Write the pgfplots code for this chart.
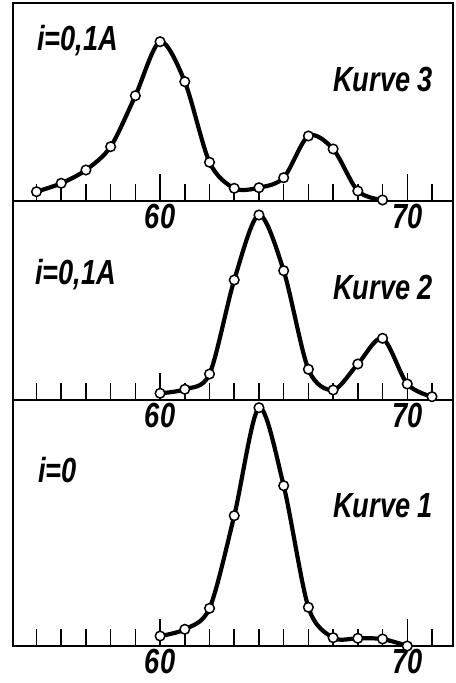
\documentclass[border=0pt]{standalone}
\usepackage{fontspec}
\usepackage{pgfplots}
\pgfplotsset{compat=1.18}
\newfontfamily\lab{Liberation Sans}[FakeStretch=0.78]
\newcommand{\labfont}{\lab\bfseries\itshape\fontsize{35}{38}\selectfont}

\pgfplotstableread{
x y
55 9.3
56 17.7
57 31
58 54.3
59 105.3
60 159.3
61 119.3
62 38.7
63 12.7
64 13.3
65 23.3
66 65
67 52
68 10
69 1
}\kurvedrei

\pgfplotstableread{
x y
60 6.7
61 10.7
62 26
63 120
64 185
65 129.3
66 30.7
67 10
68 36
69 61.7
70 16
71 3.3
}\kurvezwei

\pgfplotstableread{
x y
60 10
61 16.7
62 37.7
63 130.3
64 238.3
65 160.3
66 38.7
67 8.3
68 7.7
69 7
70 0
}\kurveeins

\pgfplotsset{
  panel/.style={
    scale only axis,
    width=440bp,
    xmin=54.05, xmax=71.85,
    ymin=0,
    axis line style={line width=2bp},
    ytick=\empty,
    xtick={60,70},
    xticklabels={60,70},
    minor xtick={55,56,57,58,59,61,62,63,64,65,66,67,68,69,71},
    tick align=inside,
    xtick pos=bottom,
    major tick length=27bp,
    minor tick length=17bp,
    every tick/.style={black, line width=1.5bp},
    every minor tick/.style={black, line width=1.5bp},
    /pgf/number format/assume math mode=true,
    xticklabel style={font=\labfont, anchor=north, inner sep=0pt, yshift=-3bp},
    clip=false,
  },
  curve/.style={
    black, line width=4.2bp, smooth, tension=0.5,
    mark=*, mark size=4.8bp,
    mark options={fill=white, draw=black, line width=1.5bp, solid},
  },
}

\begin{document}
\begin{tikzpicture}[x=1bp,y=1bp]
\path[use as bounding box] (0,0) rectangle (456,683);

% bottom panel (Kurve 1)
\begin{axis}[panel, height=246bp, ymax=246, at={(13bp,37bp)}, anchor=south west,
  xticklabel style={yshift=0bp}]
\addplot[curve] table[x=x,y=y] {\kurveeins};
\end{axis}

% middle panel (Kurve 2)
\begin{axis}[panel, height=199bp, ymax=199, at={(13bp,283bp)}, anchor=south west]
\addplot[curve] table[x=x,y=y] {\kurvezwei};
\end{axis}

% top panel (Kurve 3)
\begin{axis}[panel, height=198bp, ymax=198, at={(13bp,482bp)}, anchor=south west]
\addplot[curve] table[x=x,y=y] {\kurvedrei};
\end{axis}

\node[anchor=base west, inner sep=0pt, font=\labfont] at (37,632) {i=0,1A};
\node[anchor=base west, inner sep=0pt, font=\labfont] at (333,591) {Kurve 3};
\node[anchor=base west, inner sep=0pt, font=\labfont] at (35,398) {i=0,1A};
\node[anchor=base west, inner sep=0pt, font=\labfont] at (333,383) {Kurve 2};
\node[anchor=base west, inner sep=0pt, font=\labfont] at (38,200) {i=0};
\node[anchor=base west, inner sep=0pt, font=\labfont] at (333,165) {Kurve 1};
\end{tikzpicture}
\end{document}
